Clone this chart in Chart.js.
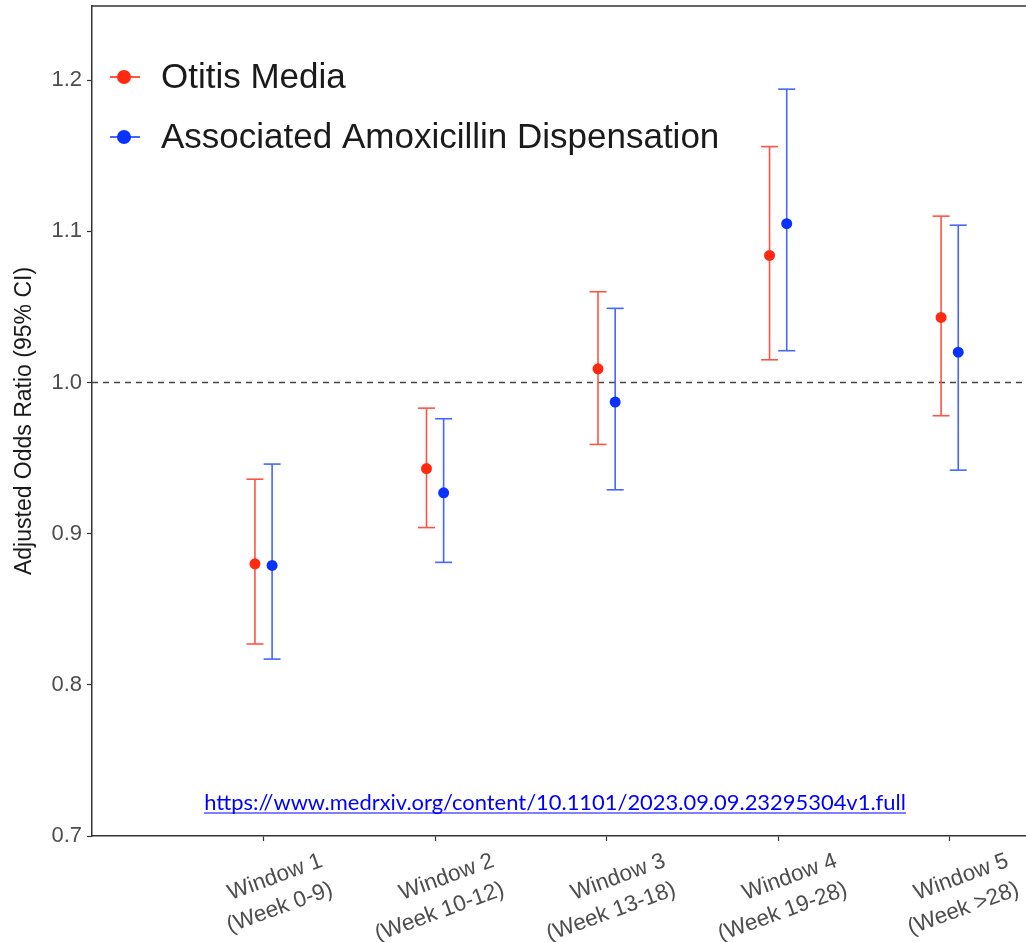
<!DOCTYPE html>
<html>
<head>
<meta charset="utf-8">
<script src="https://cdn.jsdelivr.net/npm/chart.js@4.4.0/dist/chart.umd.min.js"></script>
<style>
  html, body { margin: 0; padding: 0; background: #fff; }
  #wrap { width: 1026px; height: 942px; }
</style>
</head>
<body>
<div id="wrap"><canvas id="chart"></canvas></div>
<script>
// values
const windows = ["Window 1", "Window 2", "Window 3", "Window 4", "Window 5"];
const weeks = ["(Week 0-9)", "(Week 10-12)", "(Week 13-18)", "(Week 19-28)", "(Week >28)"];

const otitisOR = [0.880, 0.943, 1.009, 1.084, 1.043];
const otitisLo = [0.827, 0.904, 0.959, 1.015, 0.978];
const otitisHi = [0.936, 0.983, 1.060, 1.156, 1.110];

const amoxOR = [0.879, 0.927, 0.987, 1.105, 1.020];
const amoxLo = [0.817, 0.881, 0.929, 1.021, 0.942];
const amoxHi = [0.946, 0.976, 1.049, 1.194, 1.104];

const yTicks = [0.7, 0.8, 0.9, 1.0, 1.1, 1.2];
const refLine = 1.0;
const sourceUrl = "https://www.medrxiv.org/content/10.1101/2023.09.09.23295304v1.full";

const DODGE = 0.05;
const X_MIN = 0, X_MAX = 5.445;
const RED = "#ff2a10", RED_LINE = "#ff5444";
const BLUE = "#0a32ff", BLUE_LINE = "#4466ff";
const FONT = "'Liberation Sans', Arial, sans-serif";

const pts = (vals, shift) => vals.map((v, i) => ({ x: i + 1 + shift, y: v }));
const bars = (lo, hi, shift) => lo.flatMap((v, i) => [
  { x: i + 1 + shift, y: v },
  { x: i + 1 + shift, y: hi[i] },
  { x: i + 1 + shift, y: null }
]);

const ciStyle = color => ({
  showLine: true,
  borderColor: color,
  borderWidth: 1.6,
  pointStyle: "line",
  pointRadius: 8.5,
  pointBorderColor: color,
  pointBorderWidth: 1.6,
  spanGaps: false,
  order: 1
});

// top frame line, in-panel legend, source link
const extras = {
  id: "extras",
  afterDraw(chart) {
    const { ctx, chartArea: a } = chart;
    ctx.save();
    ctx.strokeStyle = "#333";
    ctx.lineWidth = 1.5;
    ctx.beginPath();
    ctx.moveTo(a.left, a.top);
    ctx.lineTo(a.right, a.top);
    ctx.stroke();

    const items = [
      { label: chart.data.datasets[0].label, dot: RED, line: RED_LINE },
      { label: chart.data.datasets[1].label, dot: BLUE, line: BLUE_LINE }
    ];
    items.forEach((it, i) => {
      const y = a.top + 71 + i * 60;
      const x = a.left + 32;
      ctx.strokeStyle = it.line;
      ctx.lineWidth = 2;
      ctx.beginPath();
      ctx.moveTo(x - 14, y);
      ctx.lineTo(x + 16, y);
      ctx.stroke();
      ctx.fillStyle = it.dot;
      ctx.beginPath();
      ctx.arc(x, y, 7, 0, Math.PI * 2);
      ctx.fill();
      ctx.fillStyle = "#1a1a1a";
      ctx.font = "35px " + FONT;
      ctx.textBaseline = "middle";
      ctx.textAlign = "left";
      ctx.fillText(it.label, x + 37, y + 1);
    });

    ctx.font = "20px Lato, sans-serif";
    const w = ctx.measureText(sourceUrl).width;
    const size = 20 * 702 / w;
    ctx.font = size.toFixed(2) + "px Lato, sans-serif";
    ctx.fillStyle = "#0000ff";
    ctx.textAlign = "center";
    ctx.textBaseline = "alphabetic";
    const cx = 555, by = 810;
    ctx.fillText(sourceUrl, cx, by);
    ctx.strokeStyle = "#0000ff";
    ctx.lineWidth = 1.2;
    ctx.beginPath();
    ctx.moveTo(cx - 351, by + 3);
    ctx.lineTo(cx + 351, by + 3);
    ctx.stroke();
    ctx.restore();
  }
};

new Chart(document.getElementById("chart"), {
  type: "scatter",
  data: {
    datasets: [
      {
        label: "Otitis Media",
        data: pts(otitisOR, -DODGE),
        backgroundColor: RED,
        borderColor: RED,
        pointRadius: 5.5,
        pointBorderWidth: 0,
        order: 0
      },
      {
        label: "Associated Amoxicillin Dispensation",
        data: pts(amoxOR, DODGE),
        backgroundColor: BLUE,
        borderColor: BLUE,
        pointRadius: 5.5,
        pointBorderWidth: 0,
        order: 0
      },
      { label: "Otitis Media CI", data: bars(otitisLo, otitisHi, -DODGE), ...ciStyle(RED_LINE) },
      { label: "Amoxicillin CI", data: bars(amoxLo, amoxHi, DODGE), ...ciStyle(BLUE_LINE) },
      {
        label: "Reference",
        data: [{ x: X_MIN, y: refLine }, { x: X_MAX, y: refLine }],
        showLine: true,
        borderColor: "#444",
        borderWidth: 1.6,
        borderDash: [6, 5],
        pointRadius: 0,
        order: 2
      }
    ]
  },
  options: {
    responsive: true,
    maintainAspectRatio: false,
    animation: false,
    layout: { autoPadding: false, padding: { top: 6, right: 0, bottom: 0, left: 0 } },
    plugins: {
      legend: { display: false },
      tooltip: { enabled: false }
    },
    scales: {
      x: {
        type: "linear",
        min: X_MIN,
        max: X_MAX,
        afterBuildTicks: s => { s.ticks = windows.map((_, i) => ({ value: i + 1 })); },
        afterFit: s => { s.height = 106; s.paddingLeft = 0; s.paddingRight = 0; },
        ticks: {
          callback: (v, i) => [windows[i], weeks[i]],
          minRotation: 20,
          maxRotation: 20,
          labelOffset: 58,
          padding: 5,
          color: "#4d4d4d",
          font: { family: FONT, size: 22.5, lineHeight: 1.35 }
        },
        grid: { drawOnChartArea: false, drawTicks: true, tickLength: 5, color: "#333", tickWidth: 1.2 },
        border: { display: true, color: "#333", width: 1.5 }
      },
      y: {
        min: 0.7,
        max: 1.249,
        afterBuildTicks: s => { s.ticks = yTicks.map(v => ({ value: v })); },
        afterFit: s => { s.width = 92; s.paddingTop = 0; s.paddingBottom = 0; },
        ticks: {
          callback: v => v.toFixed(1),
          padding: 5,
          color: "#4d4d4d",
          font: { family: FONT, size: 22 }
        },
        grid: { drawOnChartArea: false, drawTicks: true, tickLength: 5, color: "#333", tickWidth: 1.2 },
        border: { display: true, color: "#333", width: 1.5 },
        title: {
          display: true,
          text: "Adjusted Odds Ratio (95% CI)",
          color: "#1a1a1a",
          font: { family: FONT, size: 23 },
          padding: { top: 11, bottom: 0 }
        }
      }
    }
  },
  plugins: [extras]
});
</script>
</body>
</html>
